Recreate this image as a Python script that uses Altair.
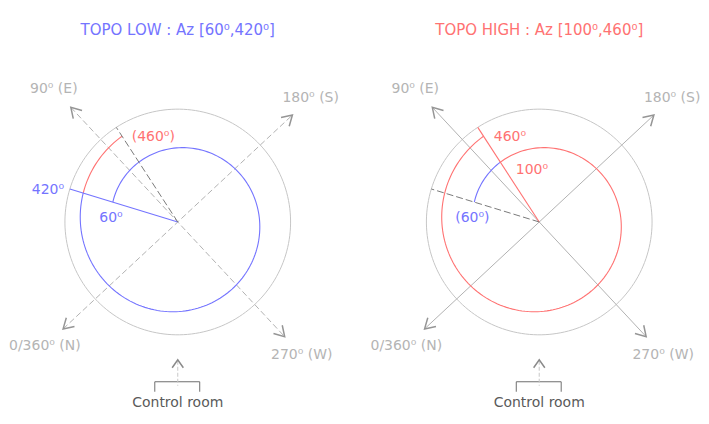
"""
TOPO LOW / TOPO HIGH azimuth ranges drawn as spirals over a compass rose
"""

import numpy as np
import pandas as pd
import altair as alt

W, H = 693, 408

BLUE = "#7474ff"
RED = "#ff7272"
CIRCLE_GREY = "#c6c6c6"
AXIS_GREY = "#b2b2b2"
LABEL_GREY = "#b4b4b4"
DARK_GREY = "#7a7a7a"

# Two panels
panel_names = ["low", "high"]
panel_cx = [170, 532]
panel_cy = [214, 214]
panel_titles = ["TOPO LOW : Az [60⁰,420⁰]", "TOPO HIGH : Az [100⁰,460⁰]"]
panel_title_colors = [BLUE, RED]
panel_axis_dashed = [True, False]

# Compass directions
compass_az = [0, 90, 180, 270]
compass_labels = ["0/360⁰ (N)", "90⁰ (E)", "180⁰ (S)", "270⁰ (W)"]

# Azimuth ranges drawn along the spiral
seg_panel = ["low", "low", "high", "high"]
seg_from = [60, 420, 60, 100]
seg_to = [420, 460, 100, 460]
seg_color = [BLUE, RED, BLUE, RED]

# Radial markers
rad_panel = ["low", "low", "high", "high"]
rad_az = [420, 460, 60, 460]
rad_color = [BLUE, DARK_GREY, DARK_GREY, RED]
rad_dashed = [False, True, True, False]

# Annotations (placed by azimuth / radius)
note_panel = ["low", "low", "low", "high", "high", "high"]
note_text = ["420⁰", "60⁰", "(460⁰)", "460⁰", "100⁰", "(60⁰)"]
note_color = [BLUE, BLUE, RED, RED, RED, BLUE]
note_az = [57, 46, 117, 114, 125, 46]
note_r = [134, 67, 89, 90, 53, 67]

# Geometry
AZ0_ANGLE = 223      # screen angle (deg, ccw from +x) of Az = 0
R_OUTER = 113
R_AXIS = 157
R_LABEL = 182
SPIRAL_R0 = 68       # spiral radius at Az = 60
SPIRAL_GAIN = 31 / 360


def polar(p, az, r):
    i = panel_names.index(p)
    t = np.radians(AZ0_ANGLE - np.asarray(az, dtype=float))
    return panel_cx[i] + r * np.cos(t), panel_cy[i] - r * np.sin(t)


def spiral_r(az):
    return SPIRAL_R0 + (np.asarray(az, dtype=float) - 60) * SPIRAL_GAIN


# ---- build line tables ----
circle_rows, spiral_rows, rad_solid, rad_dash = [], [], [], []
axis_dash_rows, axis_solid_rows, head_rows, label_rows = [], [], [], []

for p, dashed in zip(panel_names, panel_axis_dashed):
    az = np.arange(0, 362, 2)
    xs, ys = polar(p, az, R_OUTER)
    for k, (x, y) in enumerate(zip(xs, ys)):
        circle_rows.append({"g": p, "o": k, "x": x, "y": y})

    target = axis_dash_rows if dashed else axis_solid_rows
    for a, b in [(0, 180), (90, 270)]:
        for k, az_end in enumerate([a, b]):
            x, y = polar(p, az_end, R_AXIS)
            target.append({"g": f"{p}-{a}", "o": k, "x": x, "y": y})

    for az_c, lab in zip(compass_az, compass_labels):
        x, y = polar(p, az_c, R_AXIS)
        head_rows.append({"x": x, "y": y, "angle": (az_c + 90 - AZ0_ANGLE) % 360})
        lx, ly = polar(p, az_c, R_LABEL)
        label_rows.append({"x": lx, "y": ly, "text": lab})

for i, (p, a0, a1, c) in enumerate(zip(seg_panel, seg_from, seg_to, seg_color)):
    az = np.linspace(a0, a1, int(a1 - a0) // 2 + 1)
    xs, ys = polar(p, az, spiral_r(az))
    for k, (x, y) in enumerate(zip(xs, ys)):
        spiral_rows.append({"g": i, "o": k, "x": x, "y": y, "color": c})

for i, (p, a, c, d) in enumerate(zip(rad_panel, rad_az, rad_color, rad_dashed)):
    target = rad_dash if d else rad_solid
    for k, r in enumerate([0, R_OUTER]):
        x, y = polar(p, a, r)
        target.append({"g": i, "o": k, "x": x, "y": y, "color": c})

note_rows = []
for p, t, c, a, r in zip(note_panel, note_text, note_color, note_az, note_r):
    x, y = polar(p, a, r)
    note_rows.append({"x": x, "y": y, "text": t, "color": c})

# Control room bracket, arrow and titles
bracket_rows, stem_rows, room_head, room_text, title_rows = [], [], [], [], []
for i, p in enumerate(panel_names):
    cx = panel_cx[i]
    for k, (x, y) in enumerate([(cx - 23, 384), (cx - 23, 374), (cx + 22, 374), (cx + 22, 384)]):
        bracket_rows.append({"g": p, "o": k, "x": x, "y": y})
    for k, y in enumerate([353, 378]):
        stem_rows.append({"g": p, "o": k, "x": cx, "y": y})
    room_head.append({"x": cx, "y": 352})
    room_text.append({"x": cx, "y": 395, "text": "Control room"})
    title_rows.append({"x": cx, "y": 22, "text": panel_titles[i], "color": panel_title_colors[i]})

X = alt.X("x:Q", scale=alt.Scale(domain=[0, W], nice=False, zero=False), axis=None)
Y = alt.Y("y:Q", scale=alt.Scale(domain=[0, H], nice=False, zero=False, reverse=True), axis=None)


def lines(rows, **mark):
    return alt.Chart(pd.DataFrame(rows)).mark_line(**mark).encode(
        x=X, y=Y, detail="g:N", order="o:Q"
    )


circles = lines(circle_rows, color=CIRCLE_GREY, strokeWidth=1)
axes_dash = lines(axis_dash_rows, color=AXIS_GREY, strokeWidth=1, strokeDash=[6, 3])
axes_solid = lines(axis_solid_rows, color=AXIS_GREY, strokeWidth=1)
spirals = lines(spiral_rows, strokeWidth=1.1).encode(color=alt.Color("color:N", scale=None))
radial_solid = lines(rad_solid, strokeWidth=1.1).encode(color=alt.Color("color:N", scale=None))
radial_dash = lines(rad_dash, strokeWidth=1, strokeDash=[7, 3]).encode(
    color=alt.Color("color:N", scale=None)
)

heads = alt.Chart(pd.DataFrame(head_rows)).mark_point(
    shape="M-0.6,1 L0,0 L0.6,1", filled=False, size=400, strokeWidth=1.5,
    color="#959595", opacity=1
).encode(x=X, y=Y, angle=alt.Angle("angle:Q", scale=None))

compass_text = alt.Chart(pd.DataFrame(label_rows)).mark_text(
    font="DejaVu Sans", fontSize=14, color=LABEL_GREY, align="center", baseline="middle"
).encode(x=X, y=Y, text="text:N")

notes = alt.Chart(pd.DataFrame(note_rows)).mark_text(
    font="DejaVu Sans", fontSize=14, align="center", baseline="middle"
).encode(x=X, y=Y, text="text:N", color=alt.Color("color:N", scale=None))

bracket = lines(bracket_rows, color="#6e6e6e", strokeWidth=1)
stem = lines(stem_rows, color="#c8c8c8", strokeWidth=1, strokeDash=[4, 2])
room_arrow = alt.Chart(pd.DataFrame(room_head)).mark_point(
    shape="M-0.7,1 L0,0 L0.7,1", filled=False, size=256, strokeWidth=1.5,
    color="#8a8a8a", opacity=1
).encode(x=X, y=Y)
room_label = alt.Chart(pd.DataFrame(room_text)).mark_text(
    font="DejaVu Sans", fontSize=14, color="#5a5a5a", align="center", baseline="middle"
).encode(x=X, y=Y, text="text:N")

titles = alt.Chart(pd.DataFrame(title_rows)).mark_text(
    font="DejaVu Sans", fontSize=15, align="center", baseline="middle"
).encode(x=X, y=Y, text="text:N", color=alt.Color("color:N", scale=None))

chart = alt.layer(
    circles, axes_dash, axes_solid, spirals, radial_solid, radial_dash,
    heads, compass_text, notes, bracket, stem, room_arrow, room_label, titles
).properties(
    width=W, height=H, padding=0, background="white"
).configure_view(stroke=None)

chart.save("out.html", embed_options={"renderer": "svg", "actions": False})
